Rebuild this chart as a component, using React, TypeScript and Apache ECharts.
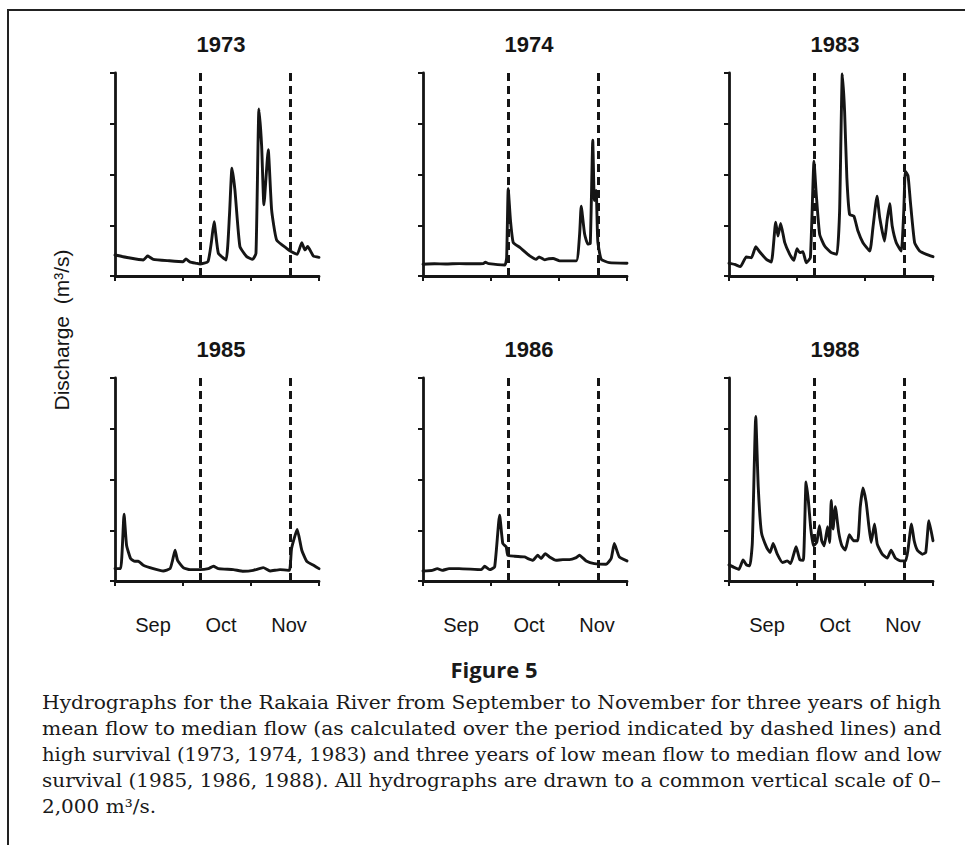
import React, { useEffect, useRef } from 'react';
import * as echarts from 'echarts';

// ---------- data ----------
const years = ['1973', '1974', '1983', '1985', '1986', '1988'];
const months = ['Sep', 'Oct', 'Nov'];
const dashedDays = [37.5, 77.5]; // period used for mean/median flow
const yLabel = 'Discharge  (m\u00B3/s)';
const figureTitle = 'Figure 5';
const captionLines = [
  'Hydrographs for the Rakaia River from September to November for three years of high',
  'mean flow to median flow (as calculated over the period indicated by dashed lines) and',
  'high survival (1973, 1974, 1983) and three years of low mean flow to median flow and low',
  'survival (1985, 1986, 1988). All hydrographs are drawn to a common vertical scale of 0\u2013',
  '2,000 m\u00B3/s.',
];

// [day since 1 Sep, discharge m3/s]
const flow1973 = [
  [0, 207], [6, 180], [12.5, 158], [14.4, 197], [16.9, 164], [24, 150], [30, 141], [31.3, 168],
  [33, 140], [36, 125], [37.5, 118], [41, 141], [42.5, 330], [43.7, 536], [45.6, 224], [49, 158],
  [50.5, 600], [51.6, 1063], [52.9, 849], [55.1, 290], [58.1, 191], [60.7, 164], [62.2, 224],
  [63.5, 1645], [64.7, 1277], [65.7, 701], [67.6, 1244], [69.1, 651], [71.3, 355], [75.7, 273],
  [77.9, 240], [80.4, 214], [82.4, 329], [83.8, 257], [85, 290], [87.5, 197], [90, 184],
];
const flow1974 = [
  [0, 116], [5, 120], [10, 118], [16, 122], [22, 120], [26.6, 122], [27.5, 135], [29, 122],
  [36.1, 109], [36.9, 182], [37.6, 860], [38.6, 545], [39.8, 331], [42.7, 281], [47.1, 198],
  [50, 165], [51.2, 188], [53.7, 159], [55.5, 170], [57.4, 172], [60.3, 149], [67.6, 149],
  [69.1, 413], [69.8, 688], [71.3, 413], [72.7, 314], [73.8, 321], [74.9, 1339], [75.6, 744],
  [76.4, 843], [77.1, 347], [78.6, 165], [82.2, 132], [90, 126],
];
const flow1983 = [
  [0, 125], [2.5, 115], [5, 92], [7.6, 187], [9.9, 180], [11.8, 289], [13.5, 239], [16.5, 164],
  [18.7, 138], [20.6, 531], [21.6, 393], [22.8, 518], [24.6, 328], [26.8, 213], [28.6, 154],
  [30, 269], [31.2, 230], [32.6, 239], [34.1, 131], [35.9, 180], [37.5, 1131], [38.5, 803],
  [40, 410], [42.2, 295], [45.1, 230], [47.6, 213], [48.8, 639], [50, 1990], [51, 1623],
  [52, 967], [53.2, 607], [55.1, 590], [56.9, 443], [59.1, 328], [62.1, 246], [63.5, 475],
  [65.3, 787], [66.5, 574], [68.6, 344], [69.7, 541], [70.9, 712], [72, 492], [73.8, 328],
  [76, 246], [77.1, 639], [77.8, 1033], [79, 984], [80, 738], [81.9, 328], [84.1, 246],
  [87.1, 213], [90, 190],
];
const flow1985 = [
  [0, 122], [2.5, 122], [4, 659], [5.1, 353], [6.9, 221], [8.8, 194], [10.3, 194], [12.5, 155],
  [16.9, 122], [21.3, 99], [24.3, 122], [25.4, 204], [26.5, 303], [27.6, 204], [30.1, 132],
  [33.1, 112], [37.5, 112], [41.2, 122], [43.4, 145], [45.6, 122], [52.2, 112], [56.6, 96],
  [61, 105], [65.4, 132], [68.4, 99], [72.8, 112], [76.9, 105], [77.9, 320], [80.4, 507],
  [82.4, 303], [84.6, 194], [87.6, 155], [90, 122],
];
const flow1986 = [
  [0, 99], [4.1, 105], [6.3, 122], [8.5, 105], [11.5, 122], [15.9, 122], [25.7, 112], [27.2, 145],
  [29.4, 112], [31.6, 138], [33.8, 649], [35.2, 369], [36.7, 336], [37.4, 254], [40.4, 244],
  [44.8, 237], [46.3, 221], [48.5, 204], [50.6, 254], [52.1, 221], [53.9, 270], [55.8, 237],
  [58.7, 204], [61.7, 211], [64.6, 211], [67.6, 231], [69, 254], [72, 198], [75.6, 171],
  [80.8, 165], [83, 221], [84.4, 369], [86.6, 237], [90, 198],
];
const flow1988 = [
  [0, 159], [2.5, 132], [4.4, 116], [6.2, 208], [7.7, 159], [9.2, 149], [10.3, 380], [11.8, 1620],
  [12.9, 926], [14.3, 479], [16.6, 331], [18.1, 281], [19.5, 370], [21.3, 264], [23.6, 182],
  [25.7, 198], [27.2, 172], [29.6, 337], [31.3, 208], [32.8, 205], [34, 975], [35, 793],
  [36.1, 512], [37.2, 347], [38.7, 380], [39.9, 545], [40.9, 397], [42, 347], [43.5, 535],
  [44.4, 380], [45.1, 793], [45.9, 512], [46.9, 733], [48.4, 479], [49.8, 347], [51.3, 304],
  [53.1, 456], [55, 397], [56.8, 397], [57.9, 727], [59.1, 916], [60.5, 777], [61.6, 562],
  [62.7, 380], [64.2, 562], [65.4, 364], [67.6, 264], [69.8, 225], [71.5, 304], [73.4, 225],
  [75.7, 198], [77.9, 198], [78.9, 298], [80.5, 562], [81.7, 397], [83.1, 304], [85.3, 264],
  [86.8, 281], [88.2, 595], [90, 397],
];
const flows = [flow1973, flow1974, flow1983, flow1985, flow1986, flow1988];

// ---------- layout ----------
const gridLefts = [115, 423, 729];
const gridTops = [73, 378];
const gridW = 204;
const gridH = 203;
const SANS = '"Liberation Sans", Arial, Helvetica, sans-serif';
const SERIF = '"DejaVu Serif", serif';
const INK = '#151515';

export default function App() {
  const ref = useRef<HTMLDivElement>(null);

  useEffect(() => {
    const chart = echarts.init(ref.current!, null, { renderer: 'svg' });

    const grids: any[] = [];
    const xAxes: any[] = [];
    const yAxes: any[] = [];
    const series: any[] = [];
    const graphics: any[] = [];

    years.forEach((yr, i) => {
      const row = Math.floor(i / 3);
      const col = i % 3;
      grids.push({
        left: gridLefts[col],
        top: gridTops[row],
        width: gridW,
        height: gridH,
        containLabel: false,
      });
      xAxes.push({
        type: 'value',
        gridIndex: i,
        min: 0,
        max: 90,
        interval: 30,
        axisLine: { show: true, onZero: false, lineStyle: { color: INK, width: 2.8 } },
        axisTick: { show: true, length: 5, lineStyle: { color: INK, width: 2 } },
        axisLabel: { show: false },
        splitLine: { show: false },
      });
      yAxes.push({
        type: 'value',
        gridIndex: i,
        min: 0,
        max: 2000,
        interval: 500,
        axisLine: { show: true, lineStyle: { color: INK, width: 2.8 } },
        axisTick: { show: true, length: 5, lineStyle: { color: INK, width: 2 } },
        axisLabel: { show: false },
        splitLine: { show: false },
      });
      series.push({
        type: 'line',
        xAxisIndex: i,
        yAxisIndex: i,
        data: flows[i],
        showSymbol: false,
        symbol: 'none',
        smooth: 0.15,
        lineStyle: { color: INK, width: 2.9, join: 'round', cap: 'round' },
        markLine: {
          silent: true,
          symbol: 'none',
          label: { show: false },
          lineStyle: { color: INK, width: 3, type: [8, 5] },
          data: dashedDays.map((d) => ({ xAxis: d })),
        },
        z: 3,
      });
      graphics.push({
        type: 'text',
        x: gridLefts[col] + gridW / 2 + 4,
        y: gridTops[row] - 29,
        style: {
          text: yr,
          font: `bold 22px ${SANS}`,
          fill: INK,
          textAlign: 'center',
          textVerticalAlign: 'middle',
        },
      });
    });

    // month label axes for bottom row
    [3, 4, 5].forEach((gi) => {
      xAxes.push({
        type: 'category',
        gridIndex: gi,
        data: months,
        boundaryGap: true,
        position: 'bottom',
        axisLine: { show: false },
        axisTick: { show: false },
        splitLine: { show: false },
        axisLabel: {
          show: true,
          margin: 34,
          fontSize: 20,
          fontFamily: SANS,
          color: INK,
          interval: 0,
          padding: [0, 0, 0, 8],
        },
      });
    });

    // Y label
    graphics.push({
      type: 'text',
      x: 61,
      y: 330,
      rotation: Math.PI / 2,
      style: {
        text: yLabel,
        font: `21px ${SANS}`,
        fill: INK,
        textAlign: 'center',
        textVerticalAlign: 'middle',
      },
    });

    // Figure title
    graphics.push({
      type: 'text',
      x: 494,
      y: 669,
      style: {
        text: figureTitle,
        font: `bold 22px "Open Sans", "Noto Sans", sans-serif`,
        fill: '#1a1a1a',
        textAlign: 'center',
        textVerticalAlign: 'middle',
      },
    });

    // caption lines, justified to the column width by measuring
    const capLeft = 42;
    const capWidth = 900;
    const capFont = `19px ${SERIF}`;
    const cv = document.createElement('canvas');
    const ctx = cv.getContext('2d')!;
    ctx.font = capFont;
    const widths = captionLines.map((l) => ctx.measureText(l).width);
    const scales = widths.map((w) => capWidth / w);
    const avgScale = scales.slice(0, 4).reduce((a, b) => a + b, 0) / 4;
    captionLines.forEach((line, k) => {
      const sc = k < captionLines.length - 1 ? scales[k] : avgScale;
      graphics.push({
        type: 'text',
        x: capLeft,
        y: 703 + k * 26,
        scaleX: sc,
        style: {
          text: line,
          font: capFont,
          fill: '#1a1a1a',
          textAlign: 'left',
          textVerticalAlign: 'middle',
        },
      });
    });

    // outer frame
    graphics.push({
      type: 'rect',
      shape: { x: 8, y: 10, width: 1000, height: 900 },
      style: { fill: 'none', stroke: '#222', lineWidth: 2 },
      silent: true,
    });

    chart.setOption({
      animation: false,
      backgroundColor: '#ffffff',
      grid: grids,
      xAxis: xAxes,
      yAxis: yAxes,
      series,
      graphic: graphics,
    });

    return () => chart.dispose();
  }, []);

  return (
    <div
      ref={ref}
      style={{ position: 'absolute', left: 0, top: 0, width: 965, height: 845, background: '#fff' }}
    />
  );
}
